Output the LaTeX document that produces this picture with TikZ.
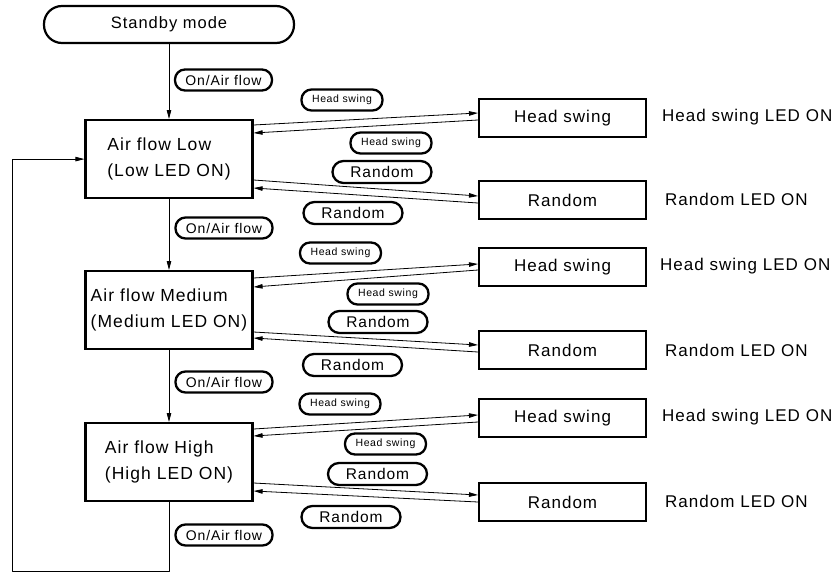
\documentclass[tikz,border=0pt]{standalone}
\usepackage{fontspec}
\setmainfont[LetterSpace=6]{Liberation Sans}
\usetikzlibrary{arrows.meta}

\begin{document}
\begin{tikzpicture}[line cap=round,line join=round,>={Triangle[length=9pt,width=4.5pt]},x=1pt,y=-1pt]
\tikzset{
  mode/.style={draw,line width=2.2pt,rounded corners=18pt,minimum width=250pt,minimum height=37pt,font=\fontsize{16.5}{20}\selectfont},
  state/.style={draw,line width=2.2pt,line join=miter,minimum width=167pt,minimum height=78pt,inner xsep=1pt,anchor=north,align=left,font=\fontsize{17.5}{26}\selectfont},
  side/.style={draw,line width=2pt,line join=miter,minimum width=167pt,minimum height=38pt,anchor=north west,font=\fontsize{17}{20}\selectfont},
  led/.style={anchor=west,inner sep=0pt,font=\fontsize{17}{20}\selectfont},
  key/.style={draw,line width=2.3pt,rounded corners=10pt,minimum height=21pt,inner sep=0pt},
  onkey/.style={key,minimum width=97pt,font=\fontsize{14}{16}\selectfont},
  hskey/.style={key,minimum width=81pt,font=\fontsize{10.5}{12}\selectfont},
  rdkey/.style={key,minimum width=99pt,minimum height=22pt,rounded corners=11pt,font=\fontsize{15.5}{18}\selectfont},
  link/.style={line width=0.8pt}
}
\useasboundingbox (0,0) rectangle (840,573);
% main column
\node[mode] (standby) at (169,24.5) {Standby mode};
\node[state] (low) at (169,119) {Air flow Low\\(Low LED ON)};
\node[state] (medium) at (169,270) {Air flow Medium\\(Medium LED ON)};
\node[state] (high) at (169,422) {Air flow High\\(High LED ON)};
\coordinate (loopend) at (12,571);
% side boxes
\node[side] (hs1) at (478,98) {Head swing};
\node[side] (rd1) at (478,180) {Random};
\node[side] (hs2) at (478,247) {Head swing};
\node[side] (rd2) at (478,330) {Random};
\node[side] (hs3) at (478,398) {Head swing};
\node[side] (rd3) at (478,482) {Random};
\node[led] (hsled1) at (662,117) {Head swing LED ON};
\node[led] (rdled1) at (665,199) {Random LED ON};
\node[led] (hsled2) at (660,266) {Head swing LED ON};
\node[led] (rdled2) at (665,350) {Random LED ON};
\node[led] (hsled3) at (662,417) {Head swing LED ON};
\node[led] (rdled3) at (665,501) {Random LED ON};
% keys
\node[onkey] (onair1) at (223.5,80) {On/Air flow};
\node[onkey] (onair2) at (224,228) {On/Air flow};
\node[onkey] (onair3) at (224,382) {On/Air flow};
\node[onkey] (onair4) at (224,535) {On/Air flow};
\node[hskey] (hskeya1) at (342,100) {Head swing};
\node[hskey] (hskeyb1) at (391,143) {Head swing};
\node[rdkey] (rdkeya1) at (382,172) {Random};
\node[rdkey] (rdkeyb1) at (353,213) {Random};
\node[hskey] (hskeya2) at (340.5,253) {Head swing};
\node[hskey] (hskeyb2) at (388,294) {Head swing};
\node[rdkey] (rdkeya2) at (378,322) {Random};
\node[rdkey] (rdkeyb2) at (352.5,365) {Random};
\node[hskey] (hskeya3) at (340,404) {Head swing};
\node[hskey] (hskeyb3) at (385.5,444) {Head swing};
\node[rdkey] (rdkeya3) at (377.5,474) {Random};
\node[rdkey] (rdkeyb3) at (351,517) {Random};
% connectors
\draw[link,->] (standby) -- (low);
\draw[link,->] (low) -- (medium);
\draw[link,->] (medium) -- (high);
\draw[link,->] (high.south) |- (loopend) |- (low.west);
\draw[link,->] ([yshift=-6pt]low.north east) -- ([yshift=-15pt]hs1.north west);
\draw[link,->] ([yshift=-22pt]hs1.north west) -- ([yshift=-14pt]low.north east);
\draw[link,->] ([yshift=-61pt]low.north east) -- ([yshift=-16pt]rd1.north west);
\draw[link,->] ([yshift=-23pt]rd1.north west) -- ([yshift=-69pt]low.north east);
\draw[link,->] ([yshift=-8pt]medium.north east) -- ([yshift=-17pt]hs2.north west);
\draw[link,->] ([yshift=-23pt]hs2.north west) -- ([yshift=-17pt]medium.north east);
\draw[link,->] ([yshift=-62pt]medium.north east) -- ([yshift=-15pt]rd2.north west);
\draw[link,->] ([yshift=-22pt]rd2.north west) -- ([yshift=-68pt]medium.north east);
\draw[link,->] ([yshift=-7pt]high.north east) -- ([yshift=-17pt]hs3.north west);
\draw[link,->] ([yshift=-24pt]hs3.north west) -- ([yshift=-14pt]high.north east);
\draw[link,->] ([yshift=-61pt]high.north east) -- ([yshift=-13pt]rd3.north west);
\draw[link,->] ([yshift=-20pt]rd3.north west) -- ([yshift=-69pt]high.north east);
\end{tikzpicture}
\end{document}
